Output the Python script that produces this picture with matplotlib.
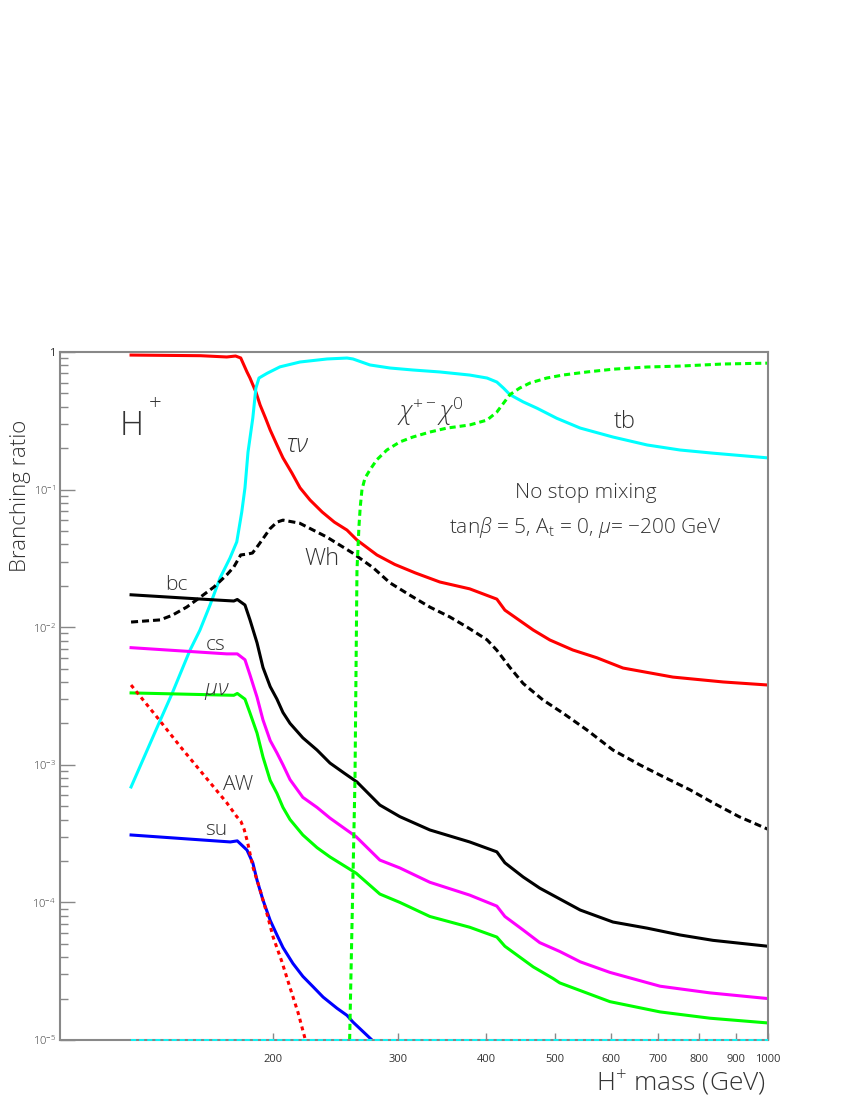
import numpy as np
import matplotlib.pyplot as plt
from matplotlib.ticker import NullLocator, LogLocator

plt.rcParams['font.family'] = ['Open Sans', 'DejaVu Sans']
plt.rcParams['mathtext.fontset'] = 'custom'
plt.rcParams['mathtext.rm'] = 'Open Sans:light'
plt.rcParams['mathtext.it'] = 'Open Sans:italic:light'
plt.rcParams['mathtext.bf'] = 'Open Sans:bold'

# branching ratios of H+ (mass in GeV)
m_taunu = [126, 158, 172, 177, 180, 183.7, 185.5, 189.1, 191.7, 195.1, 198.1, 202.5, 206.5,
           212.6, 218.3, 225.5, 234.6, 244.1, 254.3, 262.7, 280.3, 297, 317.6, 344, 379, 414,
           425, 466, 492, 530, 573, 624, 734, 864, 1000]
br_taunu = [0.95, 0.94, 0.92, 0.935, 0.905, 0.716, 0.647, 0.512, 0.412, 0.331, 0.271, 0.211,
            0.17, 0.132, 0.103, 0.084, 0.0687, 0.058, 0.0508, 0.043, 0.0335, 0.0286, 0.0248,
            0.0213, 0.019, 0.016, 0.0133, 0.00954, 0.00807, 0.00683, 0.0060, 0.00505,
            0.00434, 0.0040, 0.0038]

m_tb = [126, 138.5, 144, 152.6, 157.6, 162.9, 168.3, 173.8, 177.7, 180.6, 182.5, 184.3,
        187.2, 189.1, 191, 196.1, 204.5, 218.3, 238.4, 254.3, 259.3, 274, 292.5, 315, 344,
        379, 401, 414, 423, 432, 451, 472, 503, 543, 604, 675, 751, 836, 1000]
br_tb = [6.9e-4, 2.1e-3, 3.3e-3, 6.8e-3, 0.0095, 0.0145, 0.0228, 0.0318, 0.0417, 0.0687,
         0.103, 0.187, 0.331, 0.547, 0.647, 0.70, 0.78, 0.846, 0.89, 0.904, 0.89, 0.805,
         0.765, 0.74, 0.716, 0.68, 0.647, 0.605, 0.547, 0.49, 0.434, 0.39, 0.33, 0.28, 0.241,
         0.211, 0.194, 0.184, 0.17]

m_wh = [126, 138.5, 144, 151, 158, 165, 172, 176, 180, 184, 187, 191, 198, 202.5, 206.5,
        218, 238, 259, 277, 292.5, 312, 333, 355, 376, 401, 414, 432, 451, 481, 513, 555,
        604, 659, 711, 775, 836, 910, 1000]
br_wh = [0.0109, 0.0113, 0.0122, 0.0140, 0.0166, 0.0196, 0.024, 0.0274, 0.0335, 0.0340,
         0.0346, 0.040, 0.052, 0.058, 0.060, 0.057, 0.0453, 0.0346, 0.027, 0.021, 0.0171,
         0.014, 0.0119, 0.010, 0.0081, 0.0068, 0.0051, 0.0039, 0.00296, 0.00238, 0.00179,
         0.00128, 0.0010, 8.2e-4, 6.6e-4, 5.3e-4, 4.2e-4, 3.4e-4]

m_bc = [126, 165, 176, 178, 182.5, 185.5, 189.8, 193.5, 198.1, 202.5, 206.5, 211.3, 220.3,
        230.7, 240.6, 252, 262.7, 283, 302, 333, 379, 414, 425, 451, 476, 543, 604, 675,
        751, 836, 1000]
br_bc = [0.0172, 0.0158, 0.0155, 0.0159, 0.0145, 0.0113, 0.0077, 0.0051, 0.0037, 0.0030,
         0.0024, 0.0020, 0.00157, 0.00128, 0.00103, 8.7e-4, 7.5e-4, 5.1e-4, 4.2e-4, 3.36e-4,
         2.75e-4, 2.33e-4, 1.94e-4, 1.53e-4, 1.27e-4, 8.8e-5, 7.2e-5, 6.5e-5, 5.8e-5,
         5.3e-5, 4.8e-5]

m_cs = [126, 172, 178, 182.5, 185.5, 189.8, 193.5, 198.1, 202.5, 206.5, 211.3, 220.3, 230.7,
        240.6, 254, 262, 283, 302, 333, 379, 414, 425, 451, 476, 508, 543, 598, 704, 828,
        1000]
br_cs = [0.0071, 0.0064, 0.0064, 0.0058, 0.0045, 0.0031, 0.00212, 0.0015, 0.00122, 0.0010,
         7.8e-4, 5.8e-4, 4.9e-4, 4.1e-4, 3.36e-4, 3.0e-4, 2.03e-4, 1.78e-4, 1.4e-4, 1.13e-4,
         9.4e-5, 7.9e-5, 6.3e-5, 5.1e-5, 4.4e-5, 3.7e-5, 3.1e-5, 2.46e-5, 2.2e-5, 2.0e-5]

m_munu = [126, 176, 178, 182.5, 185.5, 189.8, 193.5, 198.1, 202.5, 206.5, 211.3, 220.3,
          230.7, 240.6, 254, 262, 283, 302, 333, 379, 414, 425, 466, 497, 508, 598, 704, 828,
          1000]
br_munu = [0.00333, 0.0032, 0.0033, 0.0030, 0.00238, 0.0017, 0.00114, 7.7e-4, 6.2e-4,
           4.9e-4, 4.0e-4, 3.09e-4, 2.5e-4, 2.14e-4, 1.8e-4, 1.63e-4, 1.15e-4, 1.0e-4,
           7.9e-5, 6.6e-5, 5.6e-5, 4.8e-5, 3.4e-5, 2.8e-5, 2.6e-5, 1.9e-5, 1.6e-5, 1.44e-5,
           1.33e-5]

m_su = [126, 174, 178, 183.7, 187.2, 189.8, 193.5, 198.1, 202.5, 206.5, 213.3, 220.3, 227.7,
        235.3, 246.2, 254.3, 259.3, 275.8]
br_su = [3.09e-4, 2.75e-4, 2.8e-4, 2.4e-4, 1.94e-4, 1.45e-4, 1.04e-4, 7.4e-5, 5.8e-5,
         4.7e-5, 3.6e-5, 2.9e-5, 2.44e-5, 2.05e-5, 1.7e-5, 1.51e-5, 1.35e-5, 1.0e-5]

m_aw = [126, 137, 148, 163, 172, 177.7, 180, 182, 184, 187.3, 191.7, 196, 200, 205.8, 211.3,
        216.9, 221.8]
br_aw = [0.0038, 0.00223, 0.00135, 7.4e-4, 5.3e-4, 4.2e-4, 3.9e-4, 3.4e-4, 2.75e-4, 1.8e-4,
         1.23e-4, 8.3e-5, 5.6e-5, 3.7e-5, 2.4e-5, 1.58e-5, 1.03e-5]

m_chi = [256.5, 261, 262.7, 264.4, 265.5, 267, 269.6, 274, 280, 289.5, 302, 315, 333, 352,
         379, 401, 414, 432, 446, 461, 487, 513, 555, 604, 675, 751, 864, 1000]
br_chi = [1.0e-5, 7.8e-4, 0.026, 0.054, 0.0747, 0.10, 0.121, 0.139, 0.164, 0.194, 0.222,
          0.241, 0.262, 0.28, 0.295, 0.32, 0.366, 0.49, 0.547, 0.595, 0.647, 0.68, 0.716,
          0.75, 0.778, 0.79, 0.818, 0.83]

# channel that stays below the plotted range (drawn on the floor)
m_floor = [126, 1000]
br_floor = [1e-5, 1e-5]

x_ticks = [200, 300, 400, 500, 600, 700, 800, 900, 1000]
x_tick_labels = ['200', '300', '400', '500', '600', '700', '800', '900', '1000']
y_ticks = [1e-5, 1e-4, 1e-3, 1e-2, 1e-1, 1]
y_tick_labels = ['$10^{-5}$', '$10^{-4}$', '$10^{-3}$', '$10^{-2}$', '$10^{-1}$', '1']

txt = '#333333'
grey = '#888888'
lw = 2.2

fig = plt.figure(figsize=(8.5, 11), dpi=100)
ax = fig.add_axes([60/850, 60/1100, 708/850, 688/1100])
ax.set_xscale('log')
ax.set_yscale('log')

ax.plot(m_floor, br_floor, color='cyan', lw=1.3, ls=(0, (2.8, 1.7)), clip_on=False, zorder=3)
ax.plot(m_taunu, br_taunu, color='red', lw=lw)
ax.plot(m_tb, br_tb, color='cyan', lw=lw)
ax.plot(m_wh, br_wh, color='black', lw=lw, ls=(0, (2.3, 1.3)))
ax.plot(m_bc, br_bc, color='black', lw=lw)
ax.plot(m_cs, br_cs, color='magenta', lw=lw)
ax.plot(m_munu, br_munu, color='lime', lw=lw)
ax.plot(m_su, br_su, color='blue', lw=lw)
ax.plot(m_aw, br_aw, color='red', lw=lw, ls=(0, (1.3, 1.3)))
ax.plot(m_chi, br_chi, color='lime', lw=lw, ls=(0, (2.0, 1.3)))

ax.set_xlim(100, 1000)
ax.set_ylim(1e-5, 1)

ax.set_xticks(x_ticks)
ax.set_xticklabels(x_tick_labels)
ax.xaxis.set_minor_locator(NullLocator())
ax.set_yticks(y_ticks)
ax.set_yticklabels(y_tick_labels)
ax.yaxis.set_minor_locator(LogLocator(base=10, subs=np.arange(2, 10)))
ax.yaxis.set_minor_formatter(plt.NullFormatter())

ax.tick_params(axis='x', which='major', direction='in', length=5, width=1, color=grey,
               labelsize=8, labelcolor=txt, pad=10)
ax.tick_params(axis='y', which='major', direction='in', length=11, width=1, color=grey,
               labelsize=8, labelcolor=txt, pad=3)
ax.tick_params(axis='y', which='minor', direction='in', length=6, width=1, color=grey)
for s in ax.spines.values():
    s.set_color(grey)
    s.set_linewidth(1.5)

kw = dict(transform=ax.transAxes, color=txt, fontweight='light', ha='center')
ax.text(0.1017, 0.8794, 'H', fontsize=24, va='baseline', **kw)
ax.text(0.134, 0.923, '+', fontsize=16, va='center', **kw)
ax.text(0.336, 0.8547, r'$\tau\nu$', fontsize=18, va='baseline', **kw)
ax.text(0.5226, 0.9128, r'$\chi^{+-}\chi^{0}$', fontsize=18, va='center', **kw)
ax.text(0.798, 0.8895, 'tb', fontsize=17, va='baseline', **kw)
ax.text(0.743, 0.7878, 'No stop mixing', fontsize=15, va='baseline', **kw)
ax.text(0.7415, 0.7369, r'tan$\beta$ = 5, A$_{\rm t}$ = 0, $\mu$= $-$200 GeV', fontsize=15,
        va='baseline', **kw)
ax.text(0.370, 0.6904, 'Wh', fontsize=17, va='baseline', **kw)
ax.text(0.165, 0.654, 'bc', fontsize=15, va='baseline', **kw)
ax.text(0.2203, 0.5669, 'cs', fontsize=15, va='baseline', **kw)
ax.text(0.2218, 0.5015, r'$\mu\nu$', fontsize=16, va='baseline', **kw)
ax.text(0.2514, 0.3634, 'AW', fontsize=15, va='baseline', **kw)
ax.text(0.2203, 0.298, 'su', fontsize=15, va='baseline', **kw)

fig.text(766/850, 1 - 1083/1100, 'H$^{+}$ mass (GeV)', ha='right', va='center',
         fontsize=19, color=txt, fontweight='light')
fig.text(21/850, 1 - 496/1100, 'Branching ratio', rotation=90, ha='center', va='center',
         fontsize=16, color=txt, fontweight='light')

fig.savefig('out.png', dpi=100)
